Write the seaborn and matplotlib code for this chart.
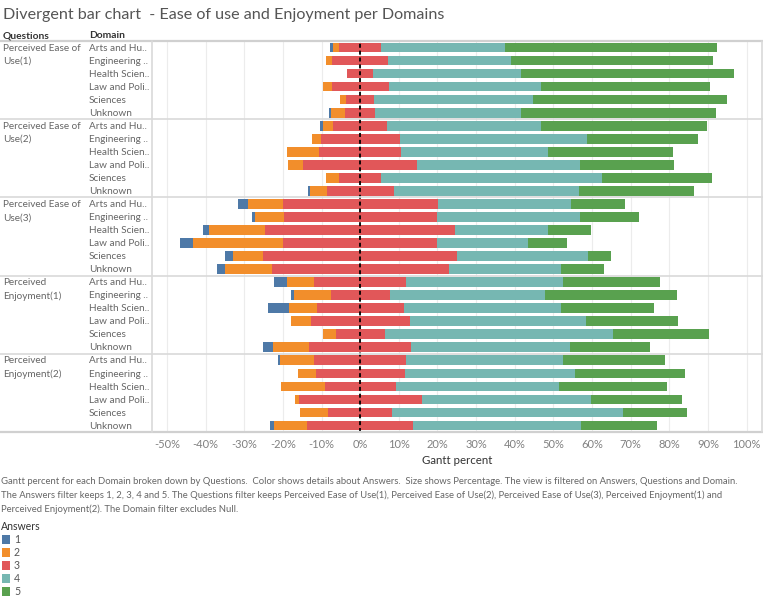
import matplotlib
matplotlib.use("Agg")
import matplotlib.pyplot as plt
import seaborn as sns
import pandas as pd
from matplotlib.transforms import blended_transform_factory
from matplotlib.patches import Rectangle
from matplotlib.lines import Line2D

# ---------------- data (percent of answers per row) ----------------
questions = ["Perceived Ease of\nUse(1)", "Perceived Ease of\nUse(2)", "Perceived Ease of\nUse(3)",
             "Perceived\nEnjoyment(1)", "Perceived\nEnjoyment(2)"]
domains = ["Arts and Hu..", "Engineering ..", "Health Scien..", "Law and Poli..", "Sciences", "Unknown"]
answers = ["1", "2", "3", "4", "5"]
colors = ["#4e79a7", "#f28e2b", "#e15759", "#76b7b2", "#59a14f"]

# rows ordered: question-major, domain-minor (6 domains per question)
pct_1 = [0.7, 0.0, 0.0, 0.0, 0.0, 0.5,
         0.6, 0.0, 0.0, 0.0, 0.0, 0.5,
         2.6, 0.8, 1.5, 3.4, 2.1, 2.1,
         3.3, 0.7, 5.5, 0.0, 0.0, 2.5,
         0.4, 0.0, 0.0, 0.0, 0.0, 1.0]
pct_2 = [1.6, 1.5, 0.0, 2.1, 1.7, 3.6,
         2.7, 2.3, 8.3, 4.0, 3.6, 4.3,
         8.9, 7.3, 14.4, 23.4, 7.8, 12.0,
         7.1, 9.6, 7.2, 5.0, 3.3, 9.4,
         8.9, 4.5, 11.2, 0.9, 7.3, 8.7]
pct_3 = [11.0, 14.6, 6.9, 14.8, 7.2, 7.7,
         14.0, 20.5, 21.3, 29.6, 10.7, 17.4,
         40.2, 39.6, 49.3, 39.9, 50.1, 45.8,
         23.8, 15.2, 22.5, 25.7, 12.6, 26.4,
         23.8, 23.1, 18.4, 31.8, 16.4, 27.3]
pct_4 = [31.9, 31.8, 38.3, 39.3, 41.2, 37.8,
         39.7, 48.5, 38.0, 42.0, 57.2, 47.9,
         34.4, 37.0, 23.9, 23.5, 33.9, 29.1,
         40.6, 40.3, 40.8, 45.7, 59.1, 41.1,
         40.5, 44.0, 42.3, 43.8, 59.9, 43.5]
pct_5 = [54.9, 52.3, 54.9, 43.8, 50.1, 50.4,
         43.1, 28.6, 32.4, 24.4, 28.4, 29.9,
         14.0, 15.4, 11.1, 10.0, 6.0, 11.0,
         25.2, 34.1, 23.9, 23.7, 24.8, 20.8,
         26.4, 28.4, 28.0, 23.5, 16.5, 19.7]
x_ticks = [-50, -40, -30, -20, -10, 0, 10, 20, 30, 40, 50, 60, 70, 80, 90, 100]

# ---------------- build table ----------------
rows = [f"{qi}|{d}" for qi in range(len(questions)) for d in domains]
df = pd.DataFrame({"row": rows, "p1": pct_1, "p2": pct_2, "p3": pct_3, "p4": pct_4, "p5": pct_5})
# divergent extents: neutral (3) centred on zero
df["r3"] = df["p3"] / 2
df["r4"] = df["r3"] + df["p4"]
df["r5"] = df["r4"] + df["p5"]
df["l3"] = -df["p3"] / 2
df["l2"] = df["l3"] - df["p2"]
df["l1"] = df["l2"] - df["p1"]

sns.set_theme(style="white")
plt.rcParams["font.family"] = ["Lato", "DejaVu Sans"]

W, H = 763, 599
fig = plt.figure(figsize=(W / 100, H / 100), dpi=100)
ax_left, ax_right, ax_top, ax_bot = 152, 762, 41, 432
ax = fig.add_axes([ax_left / W, 1 - ax_bot / H, (ax_right - ax_left) / W, (ax_bot - ax_top) / H])

n = len(rows)
# vertical gridlines
for t in x_ticks:
    ax.axvline(t, color="#ececec", lw=0.8, zorder=0)

layers = [("r5", colors[4]), ("r4", colors[3]), ("l1", colors[0]), ("l2", colors[1]),
          ("r3", colors[2]), ("l3", colors[2])]
for col, c in layers:
    sns.barplot(data=df, x=col, y="row", order=rows, color=c, saturation=1,
                width=0.74, errorbar=None, linewidth=0, ax=ax, zorder=2)

ax.axvline(0, color="black", lw=1.3, ls=(0, (2.2, 1.6)), zorder=5)

xmin = -50 - (167 - ax_left) / 3.866
xmax = 100 + (ax_right - 746.5) / 3.866
ax.set_xlim(xmin, xmax)
ax.set_ylim(n - 0.5, -0.5)
ax.set_yticks([])
ax.set_ylabel("")
ax.set_xticks(x_ticks)
ax.set_xticklabels([f"{t}%" for t in x_ticks], color="#808080", fontsize=8)
ax.tick_params(axis="x", length=0, pad=5)
ax.set_xlabel("Gantt percent", fontsize=8.3, color="#333333", labelpad=4)
for s in ax.spines.values():
    s.set_visible(False)

blend = blended_transform_factory(fig.transFigure, ax.transData)
line_col = "#d9d9d9"
# separators spanning full width
for gy in [6 * k - 0.5 for k in range(1, len(questions))]:
    fig.add_artist(Line2D([0, 1], [gy, gy], transform=blend, color=line_col, lw=1.2))
for gy in [-0.5, n - 0.5]:
    fig.add_artist(Line2D([0, 1], [gy, gy], transform=blend, color="#d0d0d0", lw=1.6))
for xv in [ax_left / W, (ax_right) / W]:
    fig.add_artist(Line2D([xv, xv], [-0.5, n - 0.5], transform=blend, color=line_col, lw=1.2))

# row labels
for qi, q in enumerate(questions):
    for li, part in enumerate(q.split("\n")):
        fig.text(3 / W, 6 * qi + li + 0.05, part, transform=blend, ha="left", va="center",
                 fontsize=7.2, color="#666666")
    for di, d in enumerate(domains):
        fig.text(89 / W, 6 * qi + di + 0.05, d, transform=blend, ha="left", va="center",
                 fontsize=7.2, color="#666666")

# headers and title
fig.text(3 / W, 1 - 36 / H, "Questions", ha="left", va="center", fontsize=7.4, color="#333333", fontweight="bold")
fig.text(89 / W, 1 - 36 / H, "Domain", ha="left", va="center", fontsize=7.4, color="#333333", fontweight="bold")
fig.text(3 / W, 1 - 15 / H, "Divergent bar chart  - Ease of use and Enjoyment per Domains",
         ha="left", va="center", fontsize=11.6, color="#555555")

caption = ["Gantt percent for each Domain broken down by Questions.  Color shows details about Answers.  Size shows Percentage. The view is filtered on Answers, Questions and Domain.",
           "The Answers filter keeps 1, 2, 3, 4 and 5. The Questions filter keeps Perceived Ease of Use(1), Perceived Ease of Use(2), Perceived Ease of Use(3), Perceived Enjoyment(1) and",
           "Perceived Enjoyment(2). The Domain filter excludes Null."]
for i, line in enumerate(caption):
    fig.text(1 / W, 1 - (482 + 13.5 * i) / H, line, ha="left", va="center", fontsize=6.8, color="#666666")

# legend
fig.text(1 / W, 1 - 527 / H, "Answers", ha="left", va="center", fontsize=7.6, color="#333333")
for i, (a, c) in enumerate(zip(answers, colors)):
    yc = 539.5 + 13 * i
    fig.add_artist(Rectangle((2 / W, 1 - (yc + 4.5) / H), 8 / W, 9 / H, transform=fig.transFigure,
                             facecolor=c, edgecolor="none"))
    fig.text(14 / W, 1 - yc / H, a, ha="left", va="center", fontsize=7.6, color="#555555")

fig.savefig("out.png", dpi=100)
